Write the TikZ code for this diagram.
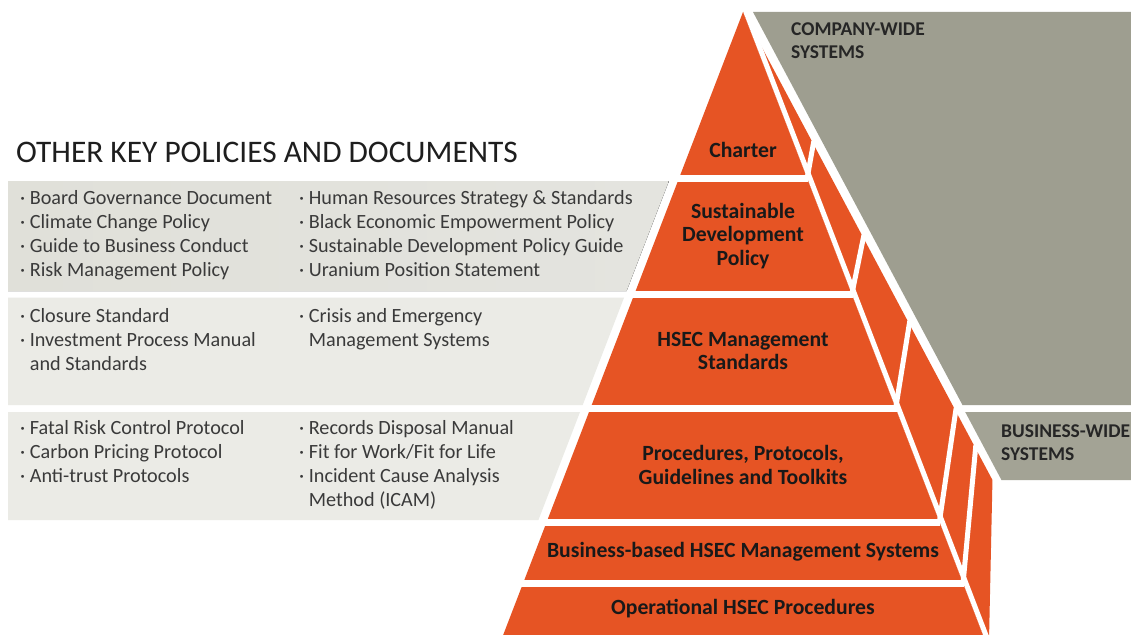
\documentclass[tikz,border=0pt]{standalone}
\usepackage{fontspec}
\setmainfont{Carlito}
\definecolor{tierorange}{RGB}{230,84,36}
\definecolor{sysgrey}{RGB}{158,158,144}
\definecolor{panelgrey}{RGB}{224,224,217}
\definecolor{panellight}{RGB}{235,235,230}
\definecolor{listink}{RGB}{58,58,58}
\definecolor{headink}{RGB}{30,30,30}
\begin{document}
\begin{tikzpicture}[x=1pt,y=-1pt,
  declare function={fl(\y)=743-0.385*(\y-12); fr(\y)=743+0.385*(\y-12); fo(\y)=743+0.533*(\y-12);},
  gap/.style={white,line width=7pt},
  seam/.style={white,line width=5pt},
  % multi-line nodes: the base anchor sits on the last line
  listtext/.style={anchor=base west,inner sep=0pt,align=left,text=listink,
    font=\fontsize{20.2}{24}\selectfont},
  tierlabel/.style={align=center,inner sep=0pt,text=black!90,
    font=\bfseries\fontsize{21.7}{23.5}\selectfont},
  systemlabel/.style={anchor=base west,inner sep=0pt,align=left,text=black!85,
    font=\bfseries\fontsize{19.5}{23}\selectfont}]
\useasboundingbox (0,0) rectangle (1131,634);
\fill[white] (0,0) rectangle (1131,634);

% grey backdrops for the two system levels
\fill[sysgrey] ({fo(12)+10},12) -- (1131,12) -- (1131,405) -- ({fo(405)+10},405) -- cycle;
\fill[sysgrey!95!white] ({fo(412)+9},412) -- (1131,412) -- (1131,480) -- ({fo(480)+9},480) -- cycle;

% panels holding the other documents
\fill[left color=panelgrey, right color=panellight!97!black]
  (8,181) -- ({fl(181)-9},181) -- ({fl(291)-9},291) -- (8,291) -- cycle;
\fill[panellight] (8,297.5) -- ({fl(297.5)-9},297.5) -- ({fl(405)-9},405) -- (8,405) -- cycle;
\fill[panellight] (8,412) -- ({fl(412)-9},412) -- ({fl(520)-9},520) -- (8,520) -- cycle;

% pyramid: front face and right-hand side face
\fill[tierorange] (743,12) -- ({fl(640)},640) -- ({fr(640)},640) -- cycle;
\fill[tierorange] (743,12) -- ({fo(480)},480) -- (989,640) -- ({fr(640)},640) -- cycle;

% horizontal gaps between tiers
\foreach \g in {178.5,294.5,408.5,522,583.5}
  \draw[gap] ({fl(\g)-4},\g) -- ({fr(\g)+1},\g);
% edge between front and side faces
\draw[seam] (746,12) -- ({fr(640)+3},640);
% tier seams across the side face
\draw[seam] ({fr(178.5)},178.5) -- ({fo(143)+1},141);
\draw[seam] ({fr(294.5)},294.5) -- ({fo(237)+1},235);
\draw[seam] ({fr(408.5)},408.5) -- ({fo(323)+1},321);
\draw[seam] ({fr(522)},522) -- ({fo(410)+1},408);
\draw[seam] ({fr(583.5)},583.5) -- ({fo(447)+1},445);

% heading
\node[anchor=base west,inner sep=0pt,text=headink,font=\fontsize{31.4}{31.4}\selectfont]
  (heading) at (16,162) {OTHER KEY POLICIES AND DOCUMENTS};

% document lists
\node[listtext] (govdocs) at (20,276.5)
  {·~Board Governance Document\\·~Climate Change Policy\\·~Guide to Business Conduct\\·~Risk Management Policy};
\node[listtext] (hrdocs) at (299,276.5)
  {·~Human Resources Strategy \& Standards\\·~Black Economic Empowerment Policy\\·~Sustainable Development Policy Guide\\·~Uranium Position Statement};
\node[listtext] (closuredocs) at (20,370.5)
  {·~Closure Standard\\·~Investment Process Manual\\\phantom{·~}and Standards};
\node[listtext] (crisisdocs) at (299,346.5)
  {·~Crisis and Emergency\\\phantom{·~}Management Systems};
\node[listtext] (riskdocs) at (20,482.5)
  {·~Fatal Risk Control Protocol\\·~Carbon Pricing Protocol\\·~Anti-trust Protocols};
\node[listtext] (recorddocs) at (299,506.5)
  {·~Records Disposal Manual\\·~Fit for Work/Fit for Life\\·~Incident Cause Analysis\\\phantom{·~}Method (ICAM)};

% tier labels
\node[tierlabel] (charter) at (743,150) {Charter};
\node[tierlabel] (sdpolicy) at (743,236) {Sustainable\\Development\\Policy};
\node[tierlabel] (hsecstd) at (743,351) {HSEC Management\\Standards};
\node[tierlabel] (procedures) at (743,465) {Procedures, Protocols,\\Guidelines and Toolkits};
\node[tierlabel] (business) at (743,552) {Business-based HSEC Management Systems};
\node[tierlabel] (operational) at (743,609) {Operational HSEC Procedures};

% system level labels
\node[systemlabel] (companywide) at (791,59) {COMPANY-WIDE\\SYSTEMS};
\node[systemlabel] (businesswide) at (1001,460) {BUSINESS-WIDE\\SYSTEMS};
\end{tikzpicture}
\end{document}
